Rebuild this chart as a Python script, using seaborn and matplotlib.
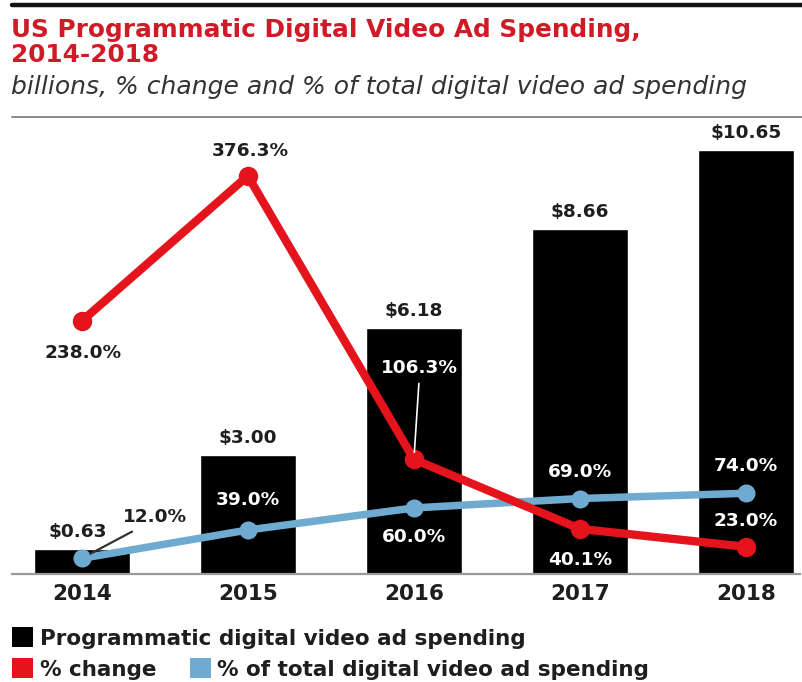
import numpy as np
import pandas as pd
import matplotlib
matplotlib.use("Agg")
import matplotlib.pyplot as plt
from matplotlib.lines import Line2D
from matplotlib.patches import Rectangle
import seaborn as sns

# ---- data -------------------------------------------------------------
years = ["2014", "2015", "2016", "2017", "2018"]
spending = [0.63, 3.00, 6.18, 8.66, 10.65]          # billions of US$
pct_change = [238.0, 376.3, 106.3, 40.1, 23.0]      # % change
pct_of_total = [12.0, 39.0, 60.0, 69.0, 74.0]       # % of total digital video ad spending

spend_labels = ["$0.63", "$3.00", "$6.18", "$8.66", "$10.65"]

# ---- style ------------------------------------------------------------
sns.set_theme(style="white")
plt.rcParams["font.family"] = ["DejaVu Sans"]

RED = "#e5141c"
TITLE_RED = "#d01a25"
BLUE = "#6fabd0"
DARK = "#1e1e1e"

W, H = 802, 682
fig = plt.figure(figsize=(W / 100, H / 100), dpi=100)


def fx(x):
    return x / W


def fy(y):
    return 1 - y / H


# ---- header -----------------------------------------------------------
fig.add_artist(Line2D([fx(12), 1], [fy(5), fy(5)], color="#111111", lw=3.2))
fig.text(fx(11), fy(37), "US Programmatic Digital Video Ad Spending,",
         color=TITLE_RED, fontsize=17.8, fontweight="bold", va="baseline")
fig.text(fx(11), fy(62), "2014-2018",
         color=TITLE_RED, fontsize=17.8, fontweight="bold", va="baseline")
fig.text(fx(11), fy(94), "billions, % change and % of total digital video ad spending",
         color="#333333", fontsize=18, fontstyle="oblique", va="baseline")
fig.add_artist(Line2D([fx(12), 1], [fy(117), fy(117)], color="#8a8a8a", lw=1.4))

# ---- bars -------------------------------------------------------------
ax = fig.add_axes([fx(12), fy(574), (800 - 12) / W, (574 - 120) / H])
df = pd.DataFrame({"year": years, "spending": spending})
sns.barplot(data=df, x="year", y="spending", color="black", saturation=1,
            width=0.58, ax=ax)
ax.set_ylim(0, 11.41)
ax.set_xlabel("")
ax.set_ylabel("")
ax.set_yticks([])
for side in ["top", "left", "right"]:
    ax.spines[side].set_visible(False)
ax.spines["bottom"].set_color("#9a9a9a")
ax.spines["bottom"].set_linewidth(1.6)
ax.tick_params(axis="x", length=0, pad=7, labelcolor=DARK, labelsize=15.5)
for lab in ax.get_xticklabels():
    lab.set_fontweight("bold")

xpos = np.arange(len(years))
lab_kw = dict(textcoords="offset pixels", ha="center", va="center",
              fontsize=13.3, fontweight="bold")

for i, (v, s) in enumerate(zip(spending, spend_labels)):
    dx = -4 if i == 0 else 0
    ax.annotate(s, (xpos[i], v), xytext=(dx, 17), color=DARK, **lab_kw)

# ---- lines ------------------------------------------------------------
ax2 = ax.twinx()
sns.lineplot(x=xpos, y=pct_of_total, ax=ax2, color=BLUE, lw=5.4,
             marker="o", markersize=13, markeredgewidth=0)
sns.lineplot(x=xpos, y=pct_change, ax=ax2, color=RED, lw=6.0,
             marker="o", markersize=14, markeredgewidth=0)
ax2.set_ylim(-2.9, 429.5)
ax2.set_yticks([])
ax2.set_ylabel("")
for side in ax2.spines:
    ax2.spines[side].set_visible(False)
ax.set_xlim(-0.42, 4.325)

# % change labels: (x offset, y offset, colour)
change_pos = [(1, -32, DARK), (2, 25, DARK), (6, 91, "white"),
              (0, -31, "white"), (0, 26, "white")]
for i, (v, (dx, dy, c)) in enumerate(zip(pct_change, change_pos)):
    kw = dict(lab_kw)
    if i == 2:
        kw["arrowprops"] = dict(arrowstyle="-", color="white", lw=1.2,
                                shrinkA=2, shrinkB=5)
    ax2.annotate(f"{v:.1f}%", (xpos[i], v), xytext=(dx, dy), color=c, **kw)

# % of total labels
total_pos = [(73, 41, DARK), (0, 30, "white"), (0, -29, "white"),
             (0, 27, "white"), (0, 27, "white")]
for i, (v, (dx, dy, c)) in enumerate(zip(pct_of_total, total_pos)):
    kw = dict(lab_kw)
    if i == 0:
        kw["arrowprops"] = dict(arrowstyle="-", color="#333333", lw=1.6,
                                relpos=(0.3, 0.0), shrinkA=3, shrinkB=7)
    ax2.annotate(f"{v:.1f}%", (xpos[i], v), xytext=(dx, dy), color=c, **kw)

# ---- legend -----------------------------------------------------------
legend_items = [
    ("black", "Programmatic digital video ad spending", 12, 627, 40, 645),
    (RED, "% change", 12, 658, 40, 676),
    (BLUE, "% of total digital video ad spending", 190, 658, 217, 676),
]
for color, text, x0, y0, tx, ty in legend_items:
    fig.add_artist(Rectangle((fx(x0), fy(y0 + 20)), 21 / W, 20 / H,
                             transform=fig.transFigure, color=color, lw=0))
    fig.text(fx(tx), fy(ty), text, color=DARK, fontsize=15.5,
             fontweight="bold", va="baseline")

fig.savefig("out.png", dpi=100)
